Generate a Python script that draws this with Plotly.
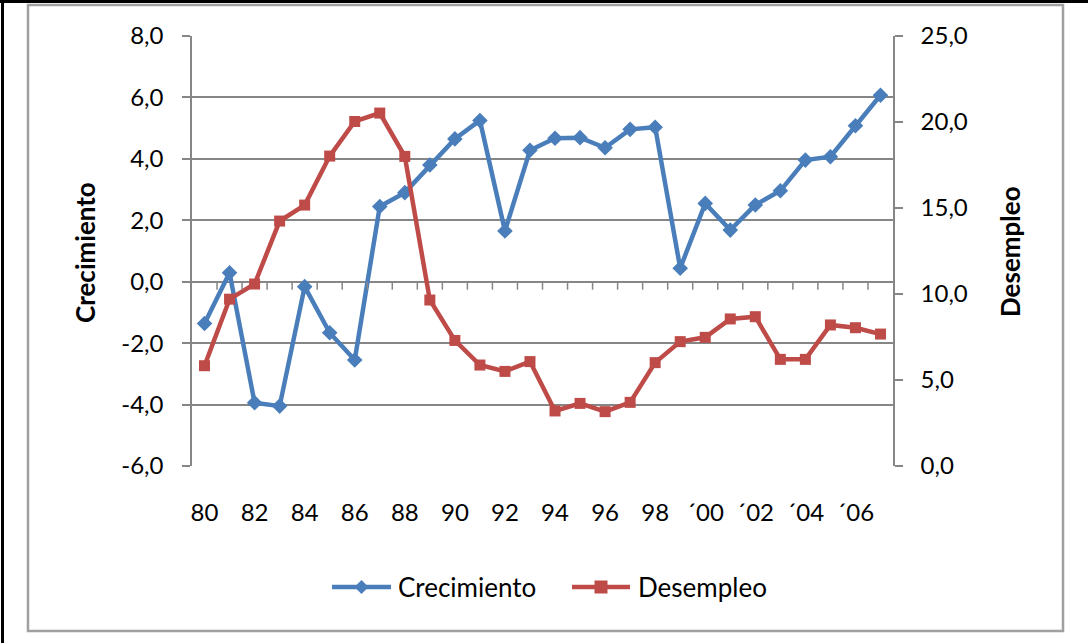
import plotly.graph_objects as go

years = list(range(1980, 2008))
crecimiento = [-1.36, 0.29, -3.94, -4.05, -0.16, -1.66, -2.55, 2.45, 2.9, 3.8,
               4.65, 5.25, 1.65, 4.28, 4.67, 4.69, 4.36, 4.96, 5.03, 0.44,
               2.55, 1.68, 2.5, 2.96, 3.96, 4.07, 5.08, 6.07]
desempleo = [5.83, 9.7, 10.58, 14.24, 15.17, 18.02, 20.03, 20.52, 18.0, 9.65,
             7.3, 5.87, 5.5, 6.07, 3.2, 3.64, 3.16, 3.7, 6.01, 7.23,
             7.48, 8.55, 8.68, 6.2, 6.2, 8.2, 8.04, 7.67]
tick_years = list(range(1980, 2008, 2))
tick_labels = ["80", "82", "84", "86", "88", "90", "92", "94", "96", "98",
               "´00", "´02", "´04", "´06"]
left_ticks = [-6, -4, -2, 0, 2, 4, 6, 8]
left_labels = ["-6,0", "-4,0", "-2,0", "0,0", "2,0", "4,0", "6,0", "8,0"]
right_ticks = [0, 5, 10, 15, 20, 25]
right_labels = ["0,0", "5,0", "10,0", "15,0", "20,0", "25,0"]
series_names = ["Crecimiento", "Desempleo"]

BLUE = "#4A7EBB"
RED = "#BE4B48"
GRID = "#868686"
FONT = "Lato"
FS = 24
FS_BIG = 26

fig = go.Figure()
fig.add_trace(go.Scatter(x=years, y=crecimiento, name=series_names[0], mode="lines+markers",
                         line=dict(color=BLUE, width=4.5),
                         marker=dict(symbol="diamond", size=12, color=BLUE),
                         xaxis="x", yaxis="y", showlegend=False))
fig.add_trace(go.Scatter(x=years, y=desempleo, name=series_names[1], mode="lines+markers",
                         line=dict(color=RED, width=4.5),
                         marker=dict(symbol="square", size=11, color=RED),
                         xaxis="x", yaxis="y2", showlegend=False))

W, H = 1088, 643
L, R, T, B = 192, 893, 36, 466
pw, ph = R - L, B - T


def px(x):
    return (x - L) / pw


def py(y):
    return (B - y) / ph


shapes = [
    dict(type="rect", xref="paper", yref="paper", x0=px(28), x1=px(1063), y0=py(631), y1=py(5),
         line=dict(color="#A0A0A0", width=2.5), fillcolor="rgba(0,0,0,0)", layer="below"),
    dict(type="line", xref="paper", yref="paper", x0=px(0), x1=px(1088), y0=py(1.5), y1=py(1.5),
         line=dict(color="black", width=3)),
    dict(type="line", xref="paper", yref="paper", x0=px(2.5), x1=px(2.5), y0=py(0), y1=py(643),
         line=dict(color="black", width=3)),
]

# category boundary ticks on the x axis line (which crosses at y = 0)
for b in [y + 0.5 for y in years[:-1]]:
    shapes.append(dict(type="line", xref="x", yref="y", ysizemode="pixel", yanchor=0,
                       x0=b, x1=b, y0=0, y1=-8, line=dict(color=GRID, width=1.5)))

# custom legend
LEG_Y = py(587)
legend_items = [
    (series_names[0], BLUE, 332, 391, 396, "diamond"),
    (series_names[1], RED, 572, 630, 636, "square"),
]
annotations = []
for name, col, lx0, lx1, tx, sym in legend_items:
    shapes.append(dict(type="line", xref="paper", yref="paper", x0=px(lx0), x1=px(lx1),
                       y0=LEG_Y, y1=LEG_Y, line=dict(color=col, width=4.5)))
    cx = px((lx0 + lx1) / 2)
    if sym == "diamond":
        shapes.append(dict(type="path", xref="paper", yref="paper", xsizemode="pixel",
                           ysizemode="pixel", xanchor=cx, yanchor=LEG_Y,
                           path="M 0 7 L 7 0 L 0 -7 L -7 0 Z", fillcolor=col,
                           line=dict(color=col, width=0)))
    else:
        shapes.append(dict(type="rect", xref="paper", yref="paper", xsizemode="pixel",
                           ysizemode="pixel", xanchor=cx, yanchor=LEG_Y,
                           x0=-6.5, x1=6.5, y0=-6.5, y1=6.5, fillcolor=col,
                           line=dict(color=col, width=0)))
    annotations.append(dict(text=name, xref="paper", yref="paper", x=px(tx), y=LEG_Y,
                            xanchor="left", yanchor="middle", showarrow=False,
                            font=dict(family=FONT, size=FS_BIG, color="black")))

annotations += [
    dict(text="<b>Crecimiento</b>", xref="paper", yref="paper", x=px(85), y=py(253),
         textangle=-90, showarrow=False, font=dict(family=FONT, size=FS_BIG, color="black"),
         xanchor="center", yanchor="middle"),
    dict(text="<b>Desempleo</b>", xref="paper", yref="paper", x=px(1010), y=py(251),
         textangle=-90, showarrow=False, font=dict(family=FONT, size=FS_BIG, color="black"),
         xanchor="center", yanchor="middle"),
]

fig.update_layout(
    template="none",
    width=W, height=H,
    margin=dict(l=L, r=W - R, t=T, b=H - B, pad=0, autoexpand=False),
    paper_bgcolor="white", plot_bgcolor="white",
    font=dict(family=FONT, size=FS, color="black"),
    showlegend=False,
    xaxis=dict(range=[1979.5, 2007.5], tickvals=tick_years, ticktext=tick_labels,
               showgrid=False, zeroline=False, showline=False, ticks="", automargin=False,
               ticklabelstandoff=30, tickfont=dict(family=FONT, size=FS)),
    yaxis=dict(range=[-6, 8], tickvals=left_ticks, ticktext=left_labels, showgrid=True,
               gridcolor=GRID, gridwidth=1.5, zeroline=False, showline=True, automargin=False,
               linecolor=GRID, linewidth=1.5, ticks="outside", ticklen=8, tickcolor=GRID,
               tickwidth=1.5, ticklabelstandoff=14, tickfont=dict(family=FONT, size=FS)),
    yaxis2=dict(range=[0, 25], tickvals=right_ticks, ticktext=right_labels, overlaying="y",
                side="right", showgrid=False, zeroline=False, showline=True, automargin=False,
                linecolor=GRID, linewidth=1.5, ticks="outside", ticklen=8, tickcolor=GRID,
                tickwidth=1.5, ticklabelstandoff=13, tickfont=dict(family=FONT, size=FS)),
    shapes=shapes,
    annotations=annotations,
)

fig.write_html("out.html", config={"displayModeBar": False},
               post_script="document.body.style.margin='0';document.body.style.overflow='hidden';")
